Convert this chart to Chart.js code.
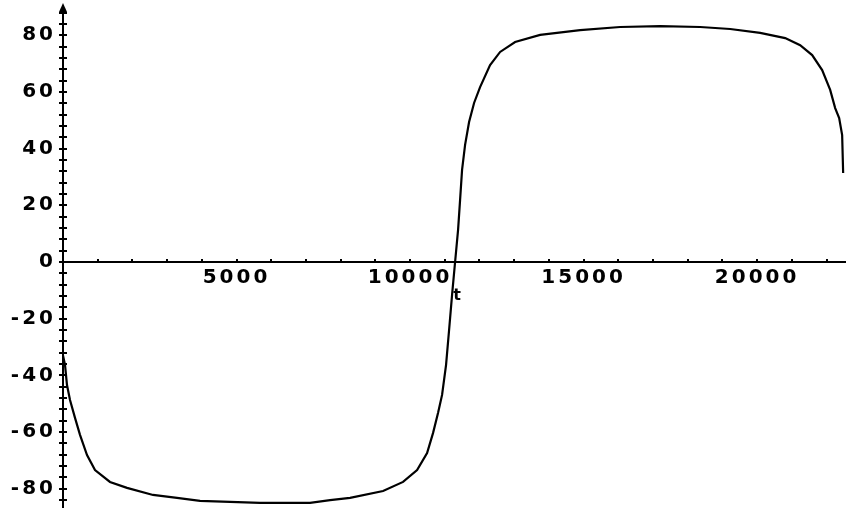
<!DOCTYPE html>
<html><head><meta charset="utf-8">
<script src="https://cdn.jsdelivr.net/npm/chart.js@4"></script>
<style>html,body{margin:0;padding:0;background:#fff}</style>
</head><body>
<canvas id="c" width="846" height="508"></canvas>
<script>
// time values t
const tValues = [0, 58, 115, 202, 346, 490, 692, 922, 1354, 1844, 2594, 3285, 3948, 5677, 7118, 7695, 8271, 9222, 9798, 10202, 10490, 10663, 10807, 10922, 11037, 11124, 11210, 11297, 11383, 11441, 11498, 11585, 11700, 11844, 12017, 12305, 12594, 13026, 13747, 14900, 16052, 17205, 18358, 19222, 20087, 20808, 21239, 21585, 21873, 22104, 22248, 22363, 22449, 22478];
// curve values
const curveValues = [-33, -36.3, -43.4, -48.7, -55, -61, -68.1, -73.4, -77.6, -79.7, -82.2, -83.2, -84.3, -85.0, -85.0, -84.0, -83.2, -80.8, -77.6, -73.4, -67.4, -60.3, -53.2, -46.9, -36.3, -24, -11.6, 0, 11.3, 21.9, 32.5, 41.3, 49.4, 56.1, 61.7, 69.5, 74.1, 77.6, 80.1, 81.8, 82.9, 83.2, 82.9, 82.2, 80.8, 79.0, 76.5, 73.0, 67.7, 60.7, 54.3, 50.8, 44.8, 31.4];
const xTickValues = [0, 1000, 2000, 3000, 4000, 5000, 6000, 7000, 8000, 9000, 10000, 11000, 12000, 13000, 14000, 15000, 16000, 17000, 18000, 19000, 20000, 21000, 22000];
const xLabelValues = [5000, 10000, 15000, 20000];
const yTickValues = [-84, -80, -76, -72, -68, -64, -60, -56, -52, -48, -44, -40, -36, -32, -28, -24, -20, -16, -12, -8, -4, 0, 4, 8, 12, 16, 20, 24, 28, 32, 36, 40, 44, 48, 52, 56, 60, 64, 68, 72, 76, 80, 84, 88];
const yLabelValues = [-80, -60, -40, -20, 0, 20, 40, 60, 80];
const axisTitle = 't';

const labelFont = {family: '"DejaVu Sans"', size: 20, weight: 'bold'};

const maplePlugin = {
  id: 'maple',
  beforeDraw(chart) {
    chart.ctx.letterSpacing = '3px';
  },
  afterDraw(chart) {
    const ctx = chart.ctx;
    const xs = chart.scales.x, ys = chart.scales.y;
    const ax = xs.getPixelForValue(0);
    const ay = ys.getPixelForValue(0);
    ctx.save();
    ctx.letterSpacing = '0px';
    ctx.strokeStyle = '#000';
    ctx.fillStyle = '#000';
    ctx.lineWidth = 2;
    ctx.beginPath();
    ys.ticks.forEach(t => {
      const py = Math.round(ys.getPixelForValue(t.value));
      ctx.moveTo(ax - 4, py); ctx.lineTo(ax + 4, py);
    });
    xs.ticks.forEach(t => {
      const px = Math.round(xs.getPixelForValue(t.value));
      ctx.moveTo(px, ay - 3); ctx.lineTo(px, ay + 1);
    });
    ctx.stroke();
    const top = chart.chartArea.top;
    ctx.beginPath();
    ctx.moveTo(ax, top - 7); ctx.lineTo(ax - 4, top + 2); ctx.lineTo(ax + 4, top + 2); ctx.closePath();
    ctx.fill();
    ctx.font = 'bold 16px "DejaVu Sans"';
    ctx.textAlign = 'center';
    ctx.textBaseline = 'middle';
    ctx.fillText(axisTitle, 457, 296);
    ctx.restore();
  }
};

const zeroPad = s => { s.paddingTop = 0; s.paddingBottom = 0; s.paddingLeft = 0; s.paddingRight = 0; };

new Chart(document.getElementById('c'), {
  type: 'line',
  data: {
    datasets: [{
      data: tValues.map((t, i) => ({x: t, y: curveValues[i]})),
      borderColor: '#000',
      borderWidth: 2.2,
      pointRadius: 0,
      tension: 0,
      fill: false
    }]
  },
  options: {
    responsive: false,
    animation: false,
    devicePixelRatio: 1,
    layout: {padding: {left: 63, right: 0, top: 10, bottom: 0}},
    plugins: {legend: {display: false}, tooltip: {enabled: false}},
    scales: {
      x: {
        type: 'linear', min: 0, max: 22560,
        position: {y: 0},
        border: {color: '#000', width: 2},
        grid: {drawOnChartArea: false, drawTicks: true, tickLength: 3, tickColor: 'rgba(0,0,0,0)', color: '#000', lineWidth: 2},
        ticks: {autoSkip: false, maxRotation: 0, padding: 1, color: '#000', font: labelFont,
          callback: v => xLabelValues.includes(v) ? String(v) : ''},
        afterBuildTicks: s => { s.ticks = xTickValues.map(v => ({value: v})); },
        afterFit: zeroPad
      },
      y: {
        type: 'linear', min: -86.8, max: 88.9,
        position: {x: 0},
        border: {color: '#000', width: 2},
        grid: {drawOnChartArea: false, drawTicks: true, tickLength: 9, tickColor: 'rgba(0,0,0,0)', color: '#000', lineWidth: 2},
        ticks: {autoSkip: false, padding: 0, color: '#000', font: labelFont,
          callback: v => yLabelValues.includes(v) ? String(v) + '\u2009' : ''},
        afterBuildTicks: s => { s.ticks = yTickValues.map(v => ({value: v})); },
        afterFit: zeroPad
      }
    }
  },
  plugins: [maplePlugin]
});
</script>
</body></html>
